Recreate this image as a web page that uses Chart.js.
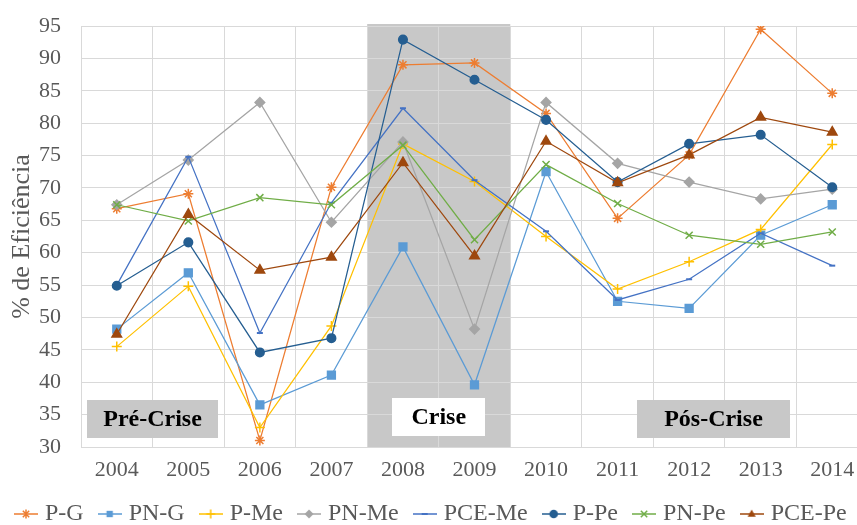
<!DOCTYPE html>
<html><head><meta charset="utf-8">
<script src="https://cdn.jsdelivr.net/npm/chart.js@4.4.1/dist/chart.umd.min.js"></script>
<style>
html,body{margin:0;padding:0;background:#fff;overflow:hidden}
#wrap{width:857px;height:525px;overflow:hidden;position:relative}
#c{position:absolute;left:0;top:0}
</style></head>
<body><div id="wrap"><canvas id="c" width="875" height="525" style="width:875px;height:525px"></canvas></div>
<script>
const years = ['2004','2005','2006','2007','2008','2009','2010','2011','2012','2013','2014'];
const yMin = 30, yMax = 95, yStep = 5;
const seriesNames = ['P-G','PN-G','P-Me','PN-Me','PCE-Me','P-Pe','PN-Pe','PCE-Pe'];
const pG    = [66.8, 69.1, 31.0, 70.1, 89.0, 89.3, 81.5, 65.3, 75.1, 94.5, 84.6];
const pnG   = [48.2, 56.9, 36.5, 41.1, 60.9, 39.6, 72.5, 52.5, 51.4, 62.7, 67.4];
const pMe   = [45.5, 54.8, 33.0, 48.7, 76.8, 71.0, 62.5, 54.4, 58.6, 63.6, 76.7];
const pnMe  = [67.4, 74.3, 83.2, 64.7, 77.1, 48.2, 83.2, 73.8, 70.9, 68.3, 69.8];
const pceMe = [55.0, 74.8, 47.6, 67.7, 82.3, 71.2, 63.3, 52.7, 55.9, 63.0, 58.0];
const pPe   = [54.9, 61.6, 44.6, 46.8, 92.9, 86.7, 80.5, 70.9, 76.8, 78.2, 70.1];
const pnPe  = [67.4, 64.9, 68.5, 67.4, 76.6, 62.0, 73.6, 67.6, 62.7, 61.3, 63.2];
const pcePe = [47.4, 65.9, 57.3, 59.3, 73.9, 59.5, 77.2, 70.8, 75.1, 80.9, 78.6];
const periodLabels = ['Pré-Crise','Crise','Pós-Crise'];

const seriesValues = [pG, pnG, pMe, pnMe, pceMe, pPe, pnPe, pcePe];
const colors = ['#ED7D31','#5B9BD5','#FFC000','#A5A5A5','#4472C4','#255E91','#70AD47','#9E480E'];
const styles = ['star','rect','cross','rectRot','line','circle','crossRot','triangle'];
const radii  = [5, 5.5, 5, 4.8, 3, 4.3, 5, 5.5];
const FONT = "'Liberation Serif','Times New Roman',serif";
const PAD_BOTTOM = -11;
const PLOT_BOTTOM = 447;

function drawMarker(ctx, style, r, x, y, color){
  ctx.save();
  ctx.fillStyle = color; ctx.strokeStyle = color; ctx.lineWidth = 1.5;
  ctx.beginPath();
  if (style==='circle'){ ctx.arc(x,y,r,0,Math.PI*2); ctx.fill(); }
  else if (style==='rect'){ const s=r*Math.SQRT1_2; ctx.rect(x-s,y-s,2*s,2*s); ctx.fill(); }
  else if (style==='rectRot'){ ctx.moveTo(x,y-r); ctx.lineTo(x+r,y); ctx.lineTo(x,y+r); ctx.lineTo(x-r,y); ctx.closePath(); ctx.fill(); }
  else if (style==='triangle'){ ctx.moveTo(x,y-r); ctx.lineTo(x+r*0.9,y+r*0.6); ctx.lineTo(x-r*0.9,y+r*0.6); ctx.closePath(); ctx.fill(); }
  else if (style==='line'){ ctx.lineWidth=2; ctx.moveTo(x-r,y); ctx.lineTo(x+r,y); ctx.stroke(); }
  else if (style==='cross'){ ctx.moveTo(x-r,y); ctx.lineTo(x+r,y); ctx.moveTo(x,y-r); ctx.lineTo(x,y+r); ctx.stroke(); }
  else if (style==='crossRot'){ const d=r*0.707; ctx.moveTo(x-d,y-d); ctx.lineTo(x+d,y+d); ctx.moveTo(x+d,y-d); ctx.lineTo(x-d,y+d); ctx.stroke(); }
  else if (style==='star'){ const d=r*0.707; ctx.moveTo(x-d,y-d); ctx.lineTo(x+d,y+d); ctx.moveTo(x+d,y-d); ctx.lineTo(x-d,y+d); ctx.moveTo(x,y-r); ctx.lineTo(x,y+r); ctx.stroke(); }
  ctx.restore();
}
const ICON_W = 24;
function makeIcon(i){
  const cv = document.createElement('canvas');
  cv.width = ICON_W; cv.height = 14;
  const ctx = cv.getContext('2d');
  ctx.strokeStyle = colors[i]; ctx.lineWidth = 1.5;
  ctx.beginPath(); ctx.moveTo(0,7); ctx.lineTo(ICON_W,7); ctx.stroke();
  drawMarker(ctx, styles[i], Math.min(radii[i],4.5), ICON_W/2, 7, colors[i]);
  return cv;
}
const icons = seriesNames.map((_,i)=>makeIcon(i));

const datasets = seriesNames.map((name,i)=>({
  label: name,
  data: seriesValues[i],
  borderColor: colors[i],
  backgroundColor: colors[i],
  pointBackgroundColor: colors[i],
  pointBorderColor: colors[i],
  pointStyle: styles[i],
  pointRadius: radii[i],
  pointBorderWidth: (styles[i]==='line') ? 2 : 1.5,
  borderWidth: 1.25,
  tension: 0,
  fill: false,
  order: seriesNames.length - 1 - i
}));

const periodShade = { from: 3.5, to: 5.5 };
const periodBoxes = [
  { text: periodLabels[0], xc: 0.5,  w: 1.83, yc: 34.3, fill: '#C8C8C8' },
  { text: periodLabels[1], xc: 4.5,  w: 1.30, yc: 34.6, fill: '#FFFFFF' },
  { text: periodLabels[2], xc: 8.34, w: 2.14, yc: 34.3, fill: '#C8C8C8' }
];

const shadePlugin = {
  id: 'shade',
  beforeDraw(chart){
    const {ctx, chartArea} = chart;
    const xs = chart.scales.x;
    const x1 = xs.getPixelForValue(periodShade.from), x2 = xs.getPixelForValue(periodShade.to);
    ctx.save();
    ctx.fillStyle = '#C8C8C8';
    ctx.fillRect(x1, chartArea.top - 2, x2 - x1, chartArea.bottom - chartArea.top + 2);
    ctx.restore();
  },
  beforeDatasetsDraw(chart){
    const {ctx} = chart;
    const xs = chart.scales.x, ys = chart.scales.y;
    const cw = xs.getPixelForValue(1) - xs.getPixelForValue(0);
    ctx.save();
    periodBoxes.forEach(b=>{
      const xc = xs.getPixelForValue(b.xc), yc = ys.getPixelForValue(b.yc);
      const w = b.w * cw, h = 38;
      ctx.fillStyle = b.fill;
      ctx.fillRect(Math.round(xc - w/2), Math.round(yc - h/2), Math.round(w), h);
      ctx.fillStyle = '#000';
      ctx.font = "bold 24px " + FONT;
      ctx.textAlign = 'center'; ctx.textBaseline = 'middle';
      ctx.fillText(b.text, xc, yc + 1);
    });
    ctx.restore();
  }
};

new Chart(document.getElementById('c'), {
  type: 'line',
  data: { labels: years, datasets },
  options: {
    responsive: false,
    animation: false,
    devicePixelRatio: 1,
    layout: { padding: { top: 26, left: 0, right: 0, bottom: PAD_BOTTOM } },
    plugins: {
      tooltip: { enabled: false },
      legend: {
        position: 'bottom',
        align: 'start',
        labels: {
          usePointStyle: true,
          pointStyleWidth: 14,
          padding: 19,
          color: '#595959',
          font: { family: FONT, size: 24 },
          generateLabels(chart){
            return chart.data.datasets.map((ds,i)=>({
              text: ds.label, pointStyle: icons[i], fillStyle: 'rgba(0,0,0,0)',
              strokeStyle: 'rgba(0,0,0,0)', lineWidth: 0, hidden: false,
              datasetIndex: i, fontColor: '#595959'
            }));
          }
        }
      }
    },
    scales: {
      x: {
        offset: true,
        grid: { offset: true, color: '#D9D9D9', lineWidth: 1, drawTicks: false },
        border: { color: '#D9D9D9' },
        ticks: { color: '#595959', font: { family: FONT, size: 22 }, padding: 10, maxRotation: 0 },
        afterFit(s){ s.height = s.chart.height - PAD_BOTTOM - (s.chart.legend ? s.chart.legend.height : 53) - PLOT_BOTTOM; }
      },
      y: {
        min: yMin, max: yMax,
        grid: { color: '#D9D9D9', lineWidth: 1, drawTicks: false },
        border: { color: '#D9D9D9' },
        ticks: { stepSize: yStep, color: '#595959', font: { family: FONT, size: 22 }, padding: 20 },
        title: { display: true, text: '% de Eficiência', color: '#595959', font: { family: FONT, size: 26 }, padding: { top: 7, bottom: 0 } },
        afterFit(s){ s.width = 81; s.paddingTop = 0; s.paddingBottom = 0; }
      }
    }
  },
  plugins: [shadePlugin]
});
</script>
</body></html>
